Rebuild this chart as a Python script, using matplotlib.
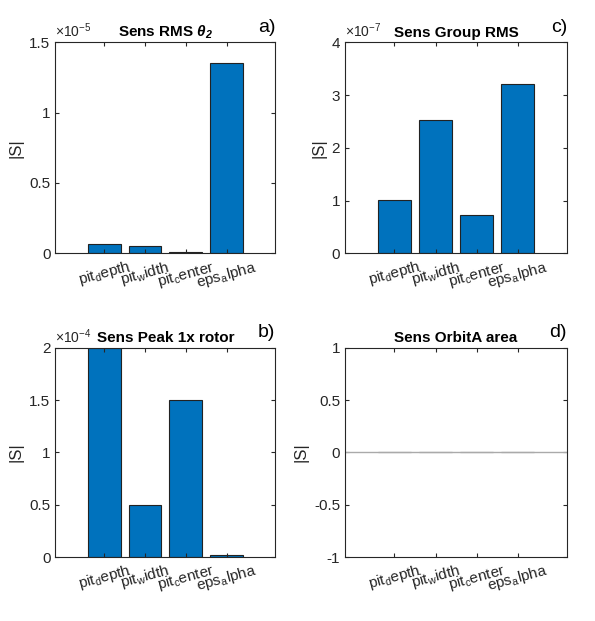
import matplotlib
matplotlib.use("Agg")
import matplotlib.pyplot as plt
import numpy as np

plt.rcParams['font.family'] = ['Liberation Sans', 'DejaVu Sans']
plt.rcParams['mathtext.fontset'] = 'custom'
plt.rcParams['mathtext.rm'] = 'Liberation Sans'
plt.rcParams['mathtext.it'] = 'Liberation Sans:italic'
plt.rcParams['mathtext.bf'] = 'Liberation Sans:bold:italic'

labels = ['pit$_{\\rm d}$epth', 'pit$_{\\rm w}$idth', 'pit$_{\\rm c}$enter', 'eps$_{\\rm a}$lpha']
rms_theta = [0.07e-5, 0.055e-5, 0.01e-5, 1.35e-5]
peak_rotor = [2.0e-4, 0.5e-4, 1.5e-4, 0.02e-4]
group_rms = [1.02e-7, 2.53e-7, 0.73e-7, 3.2e-7]
orbit_area = [0.0, 0.0, 0.0, 0.0]

panels = [
    # (values, title, letter, ylim, ticks, scale exponent, axes rect)
    (rms_theta, 'Sens RMS $\\mathbf{\\theta_2}$', 'a)', (0, 1.5), [0, 0.5, 1, 1.5], -5, [0.093, 0.592, 0.37, 0.34]),
    (peak_rotor, 'Sens Peak 1x rotor', 'b)', (0, 2), [0, 0.5, 1, 1.5, 2], -4, [0.093, 0.103, 0.37, 0.337]),
    (group_rms, 'Sens Group RMS', 'c)', (0, 4), [0, 1, 2, 3, 4], -7, [0.58, 0.592, 0.373, 0.34]),
    (orbit_area, 'Sens OrbitA area', 'd)', (-1, 1), [-1, -0.5, 0, 0.5, 1], None, [0.58, 0.103, 0.373, 0.337]),
]

fig = plt.figure(figsize=(5.95, 6.21), dpi=100)
x = np.arange(1, 5)
for vals, title, letter, ylim, ticks, exp, rect in panels:
    ax = fig.add_axes(rect)
    v = np.array(vals) / (10.0 ** exp if exp is not None else 1)
    ax.bar(x, v, width=0.8, color='#0072BD', edgecolor='#222222', linewidth=0.8)
    ax.set_xlim(-0.2, 5.2)
    ax.set_ylim(*ylim)
    ax.set_yticks(ticks)
    ax.set_yticklabels([('%g' % t) for t in ticks])
    ax.set_xticks(x)
    ax.set_xticklabels(labels, rotation=15, fontsize=11, color='#262626')
    ax.tick_params(direction='in', top=True, right=True, labelsize=11, colors='#262626', length=3)
    for t in ax.get_xticklabels():
        t.set_color('#262626')
    ax.set_ylabel('|S|', fontsize=12, color='#262626')
    for s in ax.spines.values():
        s.set_color('#262626')
        s.set_linewidth(0.8)
    ax.set_title(title, fontsize=11, fontweight='bold', pad=4)
    ax.text(1.0, 1.03, letter, transform=ax.transAxes, ha='right', va='bottom', fontsize=14)
    if exp is not None:
        ax.text(0.0, 1.01, '$\\times 10^{%d}$' % exp, transform=ax.transAxes,
                ha='left', va='bottom', fontsize=10, color='#262626')
    if exp is None:
        ax.axhline(0, color='#aaaaaa', linewidth=1)

fig.savefig('out.png', dpi=100)
